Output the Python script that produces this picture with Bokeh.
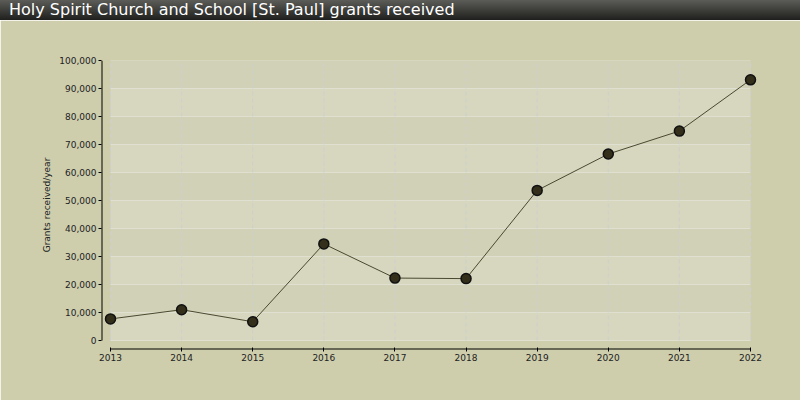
from bokeh.plotting import figure
from bokeh.models import Div, FixedTicker, NumeralTickFormatter, Range1d
from bokeh.layouts import column
from bokeh.embed import file_html
from bokeh.resources import INLINE

title_text = "Holy Spirit Church and School [St. Paul] grants received"
y_label = "Grants received/year"
years = [2013, 2014, 2015, 2016, 2017, 2018, 2019, 2020, 2021, 2022]
grants = [7700, 11000, 6700, 34500, 22300, 22100, 53600, 66600, 74800, 93100]
y_ticks = [0, 10000, 20000, 30000, 40000, 50000, 60000, 70000, 80000, 90000, 100000]

W, H_TITLE, H = 800, 20, 380
BL, BR, BT, BB = 101, 0, 40, 51
PAD = 9          # gap between axes and data area
DATA_W = 649     # px from frame left to last year
OUTER = "#cecead"
BAND_A = "#d6d7be"
BAND_B = "#d0d1b7"

frame_w = W - BL - BR
frame_h = H - BT - BB
px_per_year = (DATA_W - PAD) / (years[-1] - years[0])
x0 = years[0] - PAD / px_per_year
x1 = x0 + frame_w / px_per_year
y0 = y_ticks[0] - PAD * (y_ticks[-1] - y_ticks[0]) / (frame_h - PAD)

title = Div(
    text=f'<div style="padding-left:9px">{title_text}</div>',
    width=W, height=H_TITLE, margin=(0, 0, 0, 0),
    styles={
        "background": "linear-gradient(to bottom, #5c5c58, #1f1f1d)",
        "color": "#ffffff",
        "font-family": "DejaVu Sans",
        "font-size": "16px",
        "line-height": "20px",
        "white-space": "nowrap",
        "overflow": "hidden",
    },
)

p = figure(width=W, height=H, output_backend="svg", toolbar_location=None,
           x_range=Range1d(x0, x1), y_range=Range1d(y0, y_ticks[-1]),
           min_border_left=BL, min_border_right=BR, min_border_top=BT, min_border_bottom=BB,
           margin=(0, 0, 0, 0))
p.background_fill_color = OUTER
p.border_fill_color = OUTER
p.outline_line_color = OUTER
p.outline_line_width = 2
p.xgrid.grid_line_color = None
p.ygrid.grid_line_color = None

# bands
bottoms = y_ticks[:-1]
tops = y_ticks[1:]
colors = [BAND_A if i % 2 == 0 else BAND_B for i in range(len(bottoms))]
p.quad(left=years[0], right=years[-1], bottom=bottoms, top=tops,
       fill_color=colors, line_color=None)

# horizontal grid lines
p.segment(x0=years[0], x1=years[-1], y0=y_ticks, y1=y_ticks,
          line_color="#e0e0d0", line_width=1)
# vertical dashed grid lines
p.segment(x0=years, x1=years, y0=y_ticks[0], y1=y_ticks[-1],
          line_color="#cfcfcf", line_width=1, line_dash="4 3")

# axis lines (offset from data area)
p.segment(x0=[x0], x1=[x0], y0=[y_ticks[0]], y1=[y_ticks[-1]],
          line_color="#000000", line_width=2)
p.segment(x0=[years[0]], x1=[years[-1]], y0=[y0], y1=[y0],
          line_color="#000000", line_width=2)

p.line(years, grants, line_color="#4a4830", line_width=1)
p.scatter(years, grants, size=10, fill_color="#332f1a", line_color="#111111", line_width=1.5)

for ax in (p.xaxis[0], p.yaxis[0]):
    ax.axis_line_color = None
    ax.major_tick_line_color = "#000000"
    ax.minor_tick_line_color = None
    ax.major_label_text_font = "DejaVu Sans"
    ax.major_label_text_font_size = "9px"
    ax.major_label_text_color = "#222222"
    ax.major_label_standoff = 2

p.xaxis.ticker = FixedTicker(ticks=years)
p.xaxis.major_tick_in = 2
p.xaxis.major_tick_out = 2

p.yaxis.ticker = FixedTicker(ticks=y_ticks)
p.yaxis.formatter = NumeralTickFormatter(format="0,0")
p.yaxis.major_tick_in = 0
p.yaxis.major_tick_out = 3
p.yaxis.axis_label = y_label
p.yaxis.axis_label_text_font = "DejaVu Sans"
p.yaxis.axis_label_text_font_size = "9px"
p.yaxis.axis_label_text_font_style = "normal"
p.yaxis.axis_label_text_color = "#222222"
p.yaxis.axis_label_standoff = 4

layout = column(title, p, spacing=0)
open("out.html", "w").write(file_html(layout, INLINE))
